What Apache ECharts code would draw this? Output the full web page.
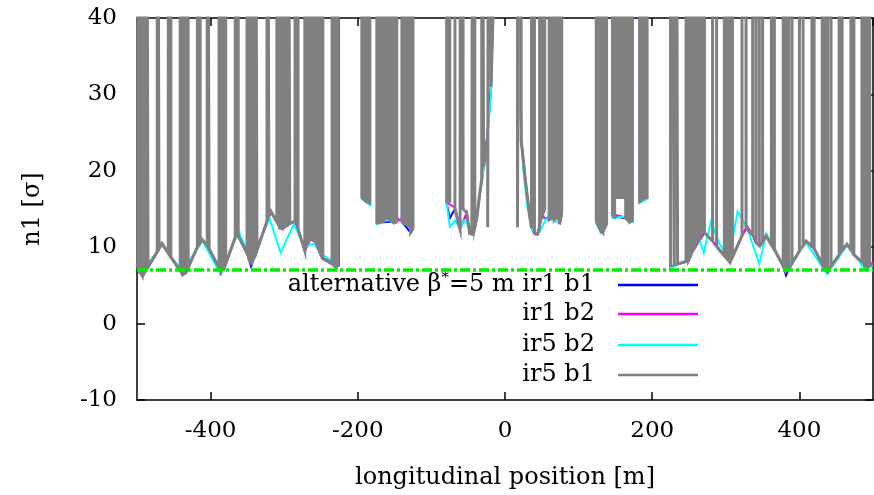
<!DOCTYPE html>
<html><head><meta charset="utf-8">
<script src="https://cdn.jsdelivr.net/npm/echarts@6/dist/echarts.min.js"></script>
<style>html,body{margin:0;padding:0;background:#fff}#c{width:874px;height:495px}</style>
</head><body><div id="c"></div>
<script>
// ---- data (position [m], n1 [sigma]); values of 100 = far above the plotted range
const seriesNames = ['ir1 b1', 'ir1 b2', 'ir5 b2', 'ir5 b1'];
const xRange = [-500, 500];
const yRange = [-10, 40];
const yTickStep = 10;
const alternativeLevel = [[-500, 7.0], [500, 7.0]];

const ir5b1 = [
[-500,7.8],
[-499,7.5],[-499,100],[-496,100],[-496,6.8],[-493,6.3],[-493,100],[-490,100],[-490,6.6],[-487.5,7.0],[-487.5,100],[-485,100],[-485,7.4],
[-472.5,9.4],[-472.5,100],[-470,100],[-470,9.8],[-466,10.5],
[-457.5,9.2],[-457.5,100],[-454,100],[-454,8.7],
[-441.3,6.9],[-441.3,100],[-437.8,100],[-437.8,6.4],[-434.2,6.6],[-434.2,100],[-430.5,100],[-430.5,7.3],
[-418,10.0],[-418,100],[-414.2,100],[-414.2,10.6],[-411.4,11.0],
[-404.6,10.2],[-404.6,100],[-402,100],[-402,9.8],
[-388.5,7.3],[-388.5,100],[-385.5,100],[-385.5,6.8],[-382.5,7.2],[-382.5,100],[-379.5,100],[-379.5,7.8],
[-366.5,11.3],[-366.5,100],[-362.5,100],[-362.5,11.5],
[-350.5,9.2],[-350.5,100],[-347.8,100],[-347.8,8.4],[-345,8.0],[-345,100],[-342.3,100],[-342.3,8.4],[-339.6,9.0],[-339.6,100],[-337,100],[-337,9.6],
[-323.4,13.4],[-323.4,100],[-320.7,100],[-320.7,14.1],[-318,14.7],
[-310,13.3],[-310,100],[-306.3,100],[-306.3,12.5],[-302.7,12.4],[-302.7,100],[-299,100],[-299,12.7],
[-295,12.9],[-295,100],[-292.4,100],[-292.4,13.1],
[-285.3,13.4],[-285.3,100],[-281.2,100],[-281.2,12.4],
[-272,9.5],[-272,100],[-268.5,100],[-268.5,10.5],[-265,11.0],[-265,100],[-261.5,100],[-261.5,11.0],[-258,10.8],[-258,100],[-254.5,100],[-254.5,10.0],[-251,9.2],[-251,100],[-247.5,100],[-247.5,8.5],
[-235,7.8],[-235,100],[-232,100],[-232,7.5],[-229,7.4],[-229,100],[-227.5,100],[-227.5,7.5],[-226,7.6],[-226,100],
[-194.4,100],[-194.4,16.5],[-191,16.2],[-191,100],[-187.5,100],[-187.5,16.0],[-183.6,15.8],[-183.6,100],
[-174,100],[-174,13.2],[-171,13.2],[-171,100],[-168,100],[-168,13.3],[-165,13.4],[-165,100],[-162,100],[-162,13.8],[-159,13.8],[-159,100],[-156,100],[-156,13.5],[-153,13.3],[-153,100],[-150,100],[-150,13.2],[-147,13.3],[-147,100],
[-140,100],[-140,13.3],[-137,13.2],[-137,100],[-134,100],[-134,13.0],[-131,12.8],[-131,100],[-128,100],[-128,12.0],[-125,12.5],[-125,100],
[-79,100],[-79,15.9],[-75,16.0],[-75,100],[-68,100],[-68,15.0],[-63,13.0],[-61,12.3],[-61,100],[-57,100],[-57,15.0],[-52,14.5],[-48,11.8],[-45,11.7],[-44,11.8],[-44,100],[-41,100],[-41,12.6],[-38,14.0],[-35,16.5],[-31.6,19.0],[-31.6,100],[-29,100],[-29,20.5],[-25,23.5],[-23.5,24.5],[-23.5,12.6],[-22,12.8],[-22,100],[-19,100],[-19,31],[-16.5,40],[-15,100],
[17,100],[17,12.6],[19,12.8],[19,100],[22,100],[22,24],[28,18.5],[33,14.5],[36,12.5],[36,100],[40,100],[40,11.8],[44,11.7],[47,12.5],[47,100],[50,100],[50,14.0],[54,15.0],[54,100],[60,100],[60,13.6],[64,13.8],[64,100],[67,100],[67,13.6],[70,14.0],[70,100],[74,100],[74,13.0],[77,14.5],[77,100],
[124,100],[124,13.5],[127,12.8],[127,100],[130,100],[130,12.2],[133,11.9],[133,100],[135.5,100],[135.5,12.5],[138,13.0],[138,100],
[146,100],[146,14.2],[149,14.0],[149,100],[152,100],[152,16.5],[155,16.5],[155,100],[158,100],[158,16.5],[161,16.5],[161,100],[164,100],[164,13.8],[167,13.5],[167,100],[170,100],[170,13.3],[173,13.5],[173,100],
[183,100],[183,16.0],[186,16.2],[186,100],[189.5,100],[189.5,16.5],[193,16.5],[193,100],
[225,100],[225,7.4],[227.5,7.3],[227.5,100],[230,100],[230,7.5],[232.3,7.6],[232.3,100],[234.5,100],[234.5,7.8],
[246,8.1],[246,100],[249.5,100],[249.5,8.3],[253,9.0],[253,100],[256.5,100],[256.5,9.8],[260,10.4],[260,100],[263.5,100],[263.5,11.0],[267,11.6],[267,100],[271,100],[271,11.9],
[282,10.8],[282,100],[287.5,100],[287.5,10.2],[291,9.7],
[298,9.0],[298,100],[301.5,100],[301.5,8.5],[305,8.1],[305,100],[309,100],[309,8.7],
[322,11.5],[322,100],[327.5,100],[327.5,12.5],[329,12.7],
[336.5,11.6],[336.5,100],[341,100],[341,10.6],[345.5,10.2],[345.5,100],[350,100],[350,10.7],[354.7,11.5],
[362,10.3],[362,100],[366,100],[366,9.7],
[378,7.5],[378,100],[381.5,100],[381.5,6.8],[385.5,7.1],[385.5,100],[390,100],[390,7.9],
[400,9.5],[400,100],[405,100],[405,10.2],[409,10.8],
[417,10.2],[417,100],[420,100],[420,9.8],
[431,7.8],[431,100],[434.5,100],[434.5,7.1],[438.5,6.8],[438.5,100],[443,100],[443,7.5],
[454,9.0],[454,100],[458,100],[458,9.6],[464.6,10.4],
[470,9.7],[470,100],[474,100],[474,9.0],
[485,8.1],[485,100],[488.5,100],[488.5,7.6],[492,7.4],[492,100],[495.5,100],[495.5,7.6],[500,7.8]
];

const ir5b2 = [
[-500,7.4],[-493,6.8],[-466,10.3],[-438.5,6.9],[-411,10.8],[-386,6.4],[-362,12.1],[-345,8.3],[-320,13.8],[-305,9.3],[-287,13.0],[-272,10.0],[-260,10.5],[-248,9.0],[-228,7.8],[-226,7.8],[-226,100],
[-194.4,100],[-194.4,16.3],[-183.6,15.5],[-183.6,100],
[-174,100],[-174,13.0],[-160,13.6],[-147,13.4],[-147,100],
[-140,100],[-140,13.2],[-125,12.6],[-125,100],
[-79,100],[-79,15.5],[-75,12.7],[-70,13.2],[-68,13.5],[-61,12.5],[-56,13.5],[-48,12.6],[-44,12.8],[-40,13.5],[-36,15.5],[-30,19.5],[-25,23],[-19,30],[-16,40],[-15,100],
[17,100],[20,28],[25,20],[30,15.5],[36,12.5],[42,11.6],[46,11.8],[52,13.0],[58,14.0],[66,13.5],[74,13.2],[77,14.5],[77,100],
[124,100],[124,13.0],[131,12.0],[138,13.0],[138,100],
[146,100],[146,13.8],[160,14.0],[173,13.3],[173,100],
[183,100],[183,15.8],[193,16.3],[193,100],
[225,100],[225,7.2],[235,7.8],[246,8.3],[252,11.5],[258,12.7],[264,11.0],[270,9.3],[280,13.4],[291,10.5],[304.5,8.5],[316,14.7],[329,12.5],[345.5,7.8],[355,11.8],[382,7.0],[409,10.6],[437.5,6.5],[464.6,10.2],[490.4,7.0],[500,7.6]
];

const ir1b1 = [
[-500,7.7],[-485,7.4],[-470,9.8],[-466,10.5],[-454,8.7],[-441.3,6.9],[-430.5,7.3],[-418,10.0],[-411.4,11.0],[-402,9.8],[-388.5,7.3],[-379.5,7.8],[-366.5,11.3],[-362.5,11.5],[-350.5,9.2],[-345,7.5],[-337,9.6],[-323.4,13.4],[-318,14.6],[-310,13.3],[-302.7,12.4],[-292.4,13.1],[-285.3,13.4],[-281.2,12.4],[-272,9.5],[-265,11.0],[-258,10.8],[-251,9.2],[-247.5,8.5],[-235,7.8],[-226,7.6],[-226,100],
[-194.4,100],[-194.4,16.4],[-183.6,15.8],[-183.6,100],
[-174,100],[-174,13.2],[-147,13.4],[-147,100],
[-140,100],[-140,13.3],[-128,11.9],[-125,12.4],[-125,100],
[-79,100],[-79,15.6],[-75,13.8],[-68,15.0],[-61,12.5],[-52,14.4],[-48,11.8],[-44,11.8],[-41,12.6],[-38,14.0],[-35,16.5],[-29,20.5],[-25,23.5],[-19,31],[-16.5,40],[-15,100],
[17,100],[22,24],[28,18.5],[33,14.5],[36,12.5],[40,11.8],[44,11.7],[50,14.0],[60,13.6],[70,14.0],[77,14.3],[77,100],
[124,100],[124,13.4],[128,13.9],[131,12.0],[138,13.0],[138,100],
[146,100],[146,14.2],[150,14.0],[164,13.8],[173,13.4],[173,100],
[183,100],[183,16.0],[193,16.5],[193,100],
[225,100],[225,7.4],[234.5,7.8],[246,8.1],[271,11.9],[282,10.8],[291,9.6],[305,8.1],[309,8.7],[322,11.5],[329,12.7],[336.5,11.6],[341,10.6],[345.5,10.2],[350,10.7],[354.7,11.5],[362,10.3],[366,9.7],[378,7.5],[381.8,6.3],[385.5,7.1],[390,7.9],[400,9.5],[409,10.8],[420,9.8],[431,7.8],[438.5,6.8],[443,7.5],[454,9.0],[464.6,10.4],[474,9.0],[485,8.1],[492,7.4],[500,7.7]
];

const ir1b2 = [
[-500,7.8],[-485,7.4],[-470,9.8],[-466,10.5],[-454,8.7],[-441.3,6.9],[-430.5,7.3],[-418,10.0],[-411.4,11.0],[-402,9.8],[-388.5,7.3],[-379.5,7.8],[-366.5,11.3],[-362.5,11.5],[-350.5,9.2],[-345,8.0],[-337,9.6],[-323.4,13.4],[-318,14.7],[-310,13.3],[-302.7,12.4],[-292.4,13.1],[-285.3,13.4],[-281.2,12.4],[-272,9.5],[-265,11.0],[-258,10.8],[-251,9.2],[-247.5,8.6],[-235,8.2],[-230,8.4],[-226,8.5],[-226,100],
[-194.4,100],[-194.4,16.4],[-183.6,15.8],[-183.6,100],
[-174,100],[-174,13.2],[-152,13.6],[-147,13.9],[-143,13.5],[-140,13.8],[-125,12.6],[-125,100],
[-79,100],[-79,15.8],[-68,15.2],[-61,12.4],[-52,14.5],[-48,11.8],[-44,11.8],[-41,12.6],[-38,14.0],[-35,16.5],[-29,20.5],[-25,23.5],[-19,31],[-16.5,40],[-15,100],
[17,100],[22,24],[28,18.5],[33,14.5],[36,12.5],[40,11.8],[44,11.7],[50,14.0],[60,13.6],[70,14.0],[75,13.2],[77,14.4],[77,100],
[124,100],[124,13.6],[131,12.2],[136,13.9],[138,14.0],[138,100],
[146,100],[146,14.3],[164,13.9],[173,13.5],[173,100],
[183,100],[183,16.1],[193,16.5],[193,100],
[225,100],[225,7.4],[234.5,7.8],[246,8.1],[271,11.9],[282,10.8],[291,9.7],[305,8.1],[309,8.7],[322,11.5],[329,12.7],[336.5,11.6],[341,10.6],[345.5,10.2],[350,10.7],[354.7,11.5],[362,10.3],[366,9.7],[378,7.5],[381.8,6.8],[385.5,7.1],[390,7.9],[400,9.5],[409,10.8],[420,9.8],[431,7.8],[438.5,6.8],[443,7.5],[454,9.0],[464.6,10.4],[474,9.0],[485,8.1],[492,7.6],[500,8.0]
];

// ---- presentation
const FONT = 'DejaVu Serif';
const colors = ['#0000ff', '#ff00ff', '#00ffff', '#808080'];
const widths = [2, 2, 2, 3];
const seriesData = [ir1b1, ir1b2, ir5b2, ir5b1];
const legendTops = [271, 302, 333, 363];

const chart = echarts.init(document.getElementById('c'), null, {renderer: 'canvas'});

const axisLine = {show: true, onZero: false, lineStyle: {color: '#000', width: 1.5}};
const axisTick = {show: true, inside: true, length: 8, lineStyle: {color: '#000', width: 1.5}};
const labelStyle = {color: '#000', fontFamily: FONT, fontSize: 23};
const nameStyle = {color: '#000', fontFamily: FONT, fontSize: 24};

const txt = {fontFamily: FONT, fontSize: 24, color: '#000', lineHeight: 28};
const option = {
  animation: false,
  backgroundColor: '#fff',
  grid: {left: 137, top: 18, width: 736, height: 383, containLabel: false},
  xAxis: [
    {type: 'value', position: 'bottom', min: xRange[0], max: xRange[1], splitNumber: 5,
     axisLine, axisTick, splitLine: {show: false},
     axisLabel: Object.assign({margin: 20, showMinLabel: false, showMaxLabel: false}, labelStyle),
     name: 'longitudinal position [m]', nameLocation: 'middle', nameGap: 66,
     nameTextStyle: nameStyle},
    {type: 'value', position: 'top', min: xRange[0], max: xRange[1], splitNumber: 5,
     axisLine, axisTick, splitLine: {show: false}, axisLabel: {show: false}}
  ],
  yAxis: [
    {type: 'value', position: 'left', min: yRange[0], max: yRange[1], interval: yTickStep,
     axisLine, axisTick, splitLine: {show: false},
     axisLabel: Object.assign({margin: 20}, labelStyle),
     name: 'n1 [σ]', nameLocation: 'middle', nameGap: 92, nameTextStyle: nameStyle},
    {type: 'value', position: 'right', min: yRange[0], max: yRange[1], interval: yTickStep,
     axisLine, axisTick, splitLine: {show: false}, axisLabel: {show: false}}
  ],
  legend: seriesNames.map((n, i) => ({
    data: [n], right: 176, top: legendTops[i], orient: 'vertical', align: 'right',
    icon: 'rect', itemWidth: 80, itemHeight: 2.5, padding: 0, itemGap: 0, selectedMode: false,
    formatter: i === 0 ? '{t|alternative β}{s|*}{p|=5 m ir1 b1}' : '{p|' + n + '}',
    textStyle: {fontFamily: FONT, fontSize: 24, color: '#000',
      rich: {
        t: txt,
        s: {fontFamily: FONT, fontSize: 15, color: '#000', lineHeight: 14, verticalAlign: 'top'},
        p: Object.assign({padding: [0, 18, 0, 0]}, txt)
      }}
  })),
  series: seriesNames.map((n, i) => ({
    name: n, type: 'line', data: seriesData[i], showSymbol: false, symbol: 'none',
    clip: true, color: colors[i],
    lineStyle: {color: colors[i], width: widths[i], join: 'miter'},
    emphasis: {disabled: true}, z: 2 + i
  })).concat([{
    name: 'alternative', type: 'line', data: alternativeLevel, showSymbol: false, symbol: 'none',
    color: '#00ee00', lineStyle: {color: '#00ee00', width: 3.5, type: [10, 3, 3, 3]}, z: 10,
    emphasis: {disabled: true}
  }])
};
chart.setOption(option);
</script></body></html>
